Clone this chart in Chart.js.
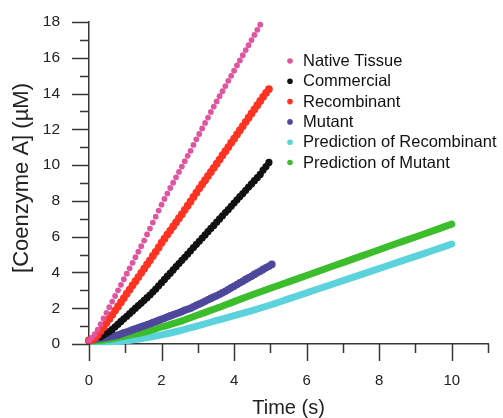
<!DOCTYPE html>
<html>
<head>
<meta charset="utf-8">
<script src="https://cdn.jsdelivr.net/npm/chart.js@4.4.1/dist/chart.umd.min.js"></script>
<style>
  html, body { margin: 0; padding: 0; background: #ffffff; }
  #wrap { width: 503px; height: 418px; }
</style>
</head>
<body>
<div id="wrap"><canvas id="c" width="503" height="418"></canvas></div>
<script>
// ---- Data ----
const seriesLabels = ["Native Tissue", "Commercial", "Recombinant", "Mutant", "Prediction of Recombinant", "Prediction of Mutant"];
const seriesColors = ["#E0559F", "#111111", "#FF3322", "#4E489C", "#5CD3DC", "#3CBE2C"];

const xTitle = "Time (s)";
const yTitle = "[Coenzyme A] (µM)";

// measurement times (s)
const timeMeasured = [0,0.08,0.16,0.24,0.32,0.40,0.48,0.56,0.64,0.72,0.80,0.88,0.96,1.04,1.12,1.20,1.28,1.36,1.44,1.52,
  1.60,1.68,1.76,1.84,1.92,2.00,2.08,2.16,2.24,2.32,2.40,2.48,2.56,2.64,2.72,2.80,2.88,2.96,3.04,3.12,
  3.20,3.28,3.36,3.44,3.52,3.60,3.68,3.76,3.84,3.92,4.00,4.08,4.16,4.24,4.32,4.40,4.48,4.56,4.64,4.72,
  4.80,4.88,4.96,5.04];

const nativeTissue = [0.20,0.35,0.55,0.80,1.11,1.43,1.74,2.06,2.37,2.69,3.00,3.31,3.62,3.93,4.23,4.54,4.85,5.16,5.47,5.78,
  6.12,6.45,6.79,7.12,7.46,7.79,8.11,8.41,8.72,9.02,9.32,9.62,9.92,10.22,10.52,10.80,11.13,11.44,11.74,12.05,
  12.36,12.66,12.97,13.27,13.56,13.85,14.13,14.42,14.71,14.99,15.28,15.57,15.85,16.14,16.43,16.70,16.99,17.28,17.56,17.85];

const commercial = [null,null,null,null,0.40,0.50,0.60,0.70,0.82,0.96,1.11,1.26,1.41,1.55,1.70,1.85,2.00,2.15,2.29,2.44,
  2.59,2.74,2.90,3.07,3.25,3.43,3.61,3.79,3.96,4.14,4.32,4.50,4.68,4.85,5.03,5.21,5.39,5.57,5.74,5.92,
  6.10,6.28,6.46,6.63,6.81,6.99,7.17,7.35,7.52,7.70,7.88,8.06,8.24,8.41,8.59,8.77,8.95,9.13,9.30,9.48,
  9.72,9.92,10.15];

const recombinant = [0.20,0.24,0.34,0.50,0.72,0.93,1.17,1.40,1.63,1.87,2.10,2.34,2.57,2.81,3.04,3.28,3.51,3.74,3.98,4.21,
  4.45,4.68,4.92,5.15,5.40,5.66,5.89,6.12,6.34,6.57,6.80,7.03,7.26,7.50,7.73,7.97,8.22,8.46,8.70,8.93,
  9.16,9.39,9.62,9.85,10.08,10.31,10.55,10.78,11.01,11.25,11.48,11.71,11.95,12.18,12.42,12.65,12.89,13.12,13.35,13.59,
  13.82,14.04,14.25];

const mutant = [0.20,0.23,0.26,0.29,0.32,0.35,0.38,0.41,0.44,0.47,0.50,0.56,0.62,0.67,0.73,0.79,0.85,0.90,0.96,1.02,
  1.08,1.13,1.20,1.26,1.32,1.38,1.44,1.51,1.57,1.63,1.69,1.75,1.81,1.88,1.94,2.00,2.08,2.16,2.23,2.31,
  2.39,2.47,2.55,2.63,2.70,2.78,2.86,2.95,3.04,3.14,3.23,3.33,3.42,3.51,3.61,3.70,3.79,3.89,3.98,4.07,
  4.17,4.26,4.35,4.45];

// prediction times (s)
const timePredicted = [0,0.5,1,1.5,2,2.5,3,3.5,4,4.5,5,5.5,6,6.5,7,7.5,8,8.5,9,9.5,10];
const predRecombinant = [0.15,0.13,0.18,0.32,0.51,0.74,1.02,1.30,1.58,1.87,2.18,2.52,2.86,3.20,3.54,3.88,4.22,4.56,4.90,5.24,5.59];
const predMutant = [0.15,0.25,0.45,0.65,0.95,1.25,1.62,1.98,2.37,2.75,3.12,3.47,3.83,4.19,4.55,4.91,5.27,5.63,5.98,6.34,6.70];

// axis ticks
const xMin = 0, xMax = 11, xStep = 1, xLabelEvery = 2;
const yMin = 0, yMax = 18, yStep = 1, yLabelEvery = 2;

// ---- helpers ----
function pair(times, values) {
  const out = [];
  for (let i = 0; i < values.length; i++) {
    if (values[i] !== null) out.push({ x: times[i], y: values[i] });
  }
  return out;
}

const axisColor = "#3a3633";
const textColor = "#222222";
const FONT = "'Liberation Sans', Arial, sans-serif";

const majorLen = 17, minorLen = 9;

const tickMarks = {
  id: "tickMarks",
  afterDraw(chart) {
    const ctx = chart.ctx, ca = chart.chartArea;
    const xs = chart.scales.x, ys = chart.scales.y;
    ctx.save();
    ctx.strokeStyle = axisColor;
    ctx.lineWidth = 1.5;
    ctx.beginPath();
    xs.ticks.forEach(t => {
      const px = Math.round(xs.getPixelForValue(t.value)) + 0.5;
      const len = (t.value % xLabelEvery === 0) ? majorLen : minorLen;
      ctx.moveTo(px, ca.bottom);
      ctx.lineTo(px, ca.bottom + len);
    });
    ys.ticks.forEach(t => {
      const py = Math.round(ys.getPixelForValue(t.value)) + 0.5;
      const len = (t.value % yLabelEvery === 0) ? majorLen : minorLen;
      ctx.moveTo(ca.left, py);
      ctx.lineTo(ca.left - len, py);
    });
    ctx.stroke();
    // y-axis title
    ctx.save();
    ctx.translate(22, (ca.top + ca.bottom) / 2 - 5);
    ctx.rotate(-Math.PI / 2);
    ctx.font = "22px " + FONT;
    ctx.fillStyle = textColor;
    ctx.textAlign = "center";
    ctx.textBaseline = "middle";
    ctx.fillText(yTitle, 0, 0);
    ctx.restore();
    ctx.restore();
  }
};

const innerLegend = {
  id: "innerLegend",
  afterDraw(chart) {
    const ctx = chart.ctx, ca = chart.chartArea;
    const x0 = ca.left + 201, y0 = ca.top + 39, rowH = 20.3;
    ctx.save();
    ctx.font = "16.5px " + FONT;
    ctx.textBaseline = "middle";
    ctx.textAlign = "left";
    seriesLabels.forEach((lab, i) => {
      const y = y0 + i * rowH;
      ctx.fillStyle = seriesColors[i];
      ctx.beginPath();
      ctx.arc(x0, y, 2.8, 0, Math.PI * 2);
      ctx.fill();
      ctx.fillStyle = "#111111";
      ctx.fillText(lab, x0 + 13, y + 0.5);
    });
    ctx.restore();
  }
};

const scatterDs = (i, data, r, order) => ({
  label: seriesLabels[i], data,
  showLine: false,
  backgroundColor: seriesColors[i], borderColor: seriesColors[i],
  pointRadius: r, pointBorderWidth: 0, pointHoverRadius: r,
  order
});
const lineDs = (i, data, order) => ({
  label: seriesLabels[i], data,
  showLine: true, pointRadius: 0,
  borderColor: seriesColors[i], backgroundColor: seriesColors[i],
  borderWidth: 7, borderCapStyle: "round", borderJoinStyle: "round",
  tension: 0.4, cubicInterpolationMode: "monotone",
  order
});

new Chart(document.getElementById("c"), {
  type: "scatter",
  data: {
    datasets: [
      scatterDs(0, pair(timeMeasured, nativeTissue), 2.9, 1),
      scatterDs(1, pair(timeMeasured, commercial), 3.6, 3),
      scatterDs(2, pair(timeMeasured, recombinant), 3.9, 2),
      scatterDs(3, pair(timeMeasured, mutant), 3.8, 4),
      lineDs(4, pair(timePredicted, predRecombinant), 6),
      lineDs(5, pair(timePredicted, predMutant), 5)
    ]
  },
  options: {
    responsive: false,
    animation: false,
    devicePixelRatio: 1,
    clip: false,
    layout: { padding: { left: 0, right: 15, top: 22, bottom: 0 } },
    plugins: { legend: { display: false }, tooltip: { enabled: false } },
    scales: {
      x: {
        type: "linear", min: xMin, max: xMax,
        afterFit(s) { s.height = 74; },
        grid: { display: true, drawOnChartArea: false, drawTicks: true, tickLength: majorLen, tickColor: "rgba(0,0,0,0)" },
        border: { display: true, color: axisColor, width: 1.5 },
        ticks: {
          stepSize: xStep, padding: 11, color: textColor, maxRotation: 0, autoSkip: false,
          font: { family: FONT, size: 15 },
          callback: v => (v % xLabelEvery === 0 && v <= 10) ? String(v) : ""
        },
        title: { display: true, text: xTitle, color: textColor,
          font: { family: FONT, size: 20, lineHeight: 1 }, padding: { top: 0, bottom: 0 } }
      },
      y: {
        type: "linear", min: yMin, max: yMax,
        afterFit(s) { s.width = 89; },
        grid: { display: true, drawOnChartArea: false, drawTicks: true, tickLength: majorLen, tickColor: "rgba(0,0,0,0)" },
        border: { display: true, color: axisColor, width: 1.5 },
        ticks: {
          stepSize: yStep, padding: 12, color: textColor, autoSkip: false,
          font: { family: FONT, size: 15.5 },
          callback: v => (v % yLabelEvery === 0) ? String(v) : ""
        },
        title: { display: false }
      }
    }
  },
  plugins: [tickMarks, innerLegend]
});
</script>
</body>
</html>
